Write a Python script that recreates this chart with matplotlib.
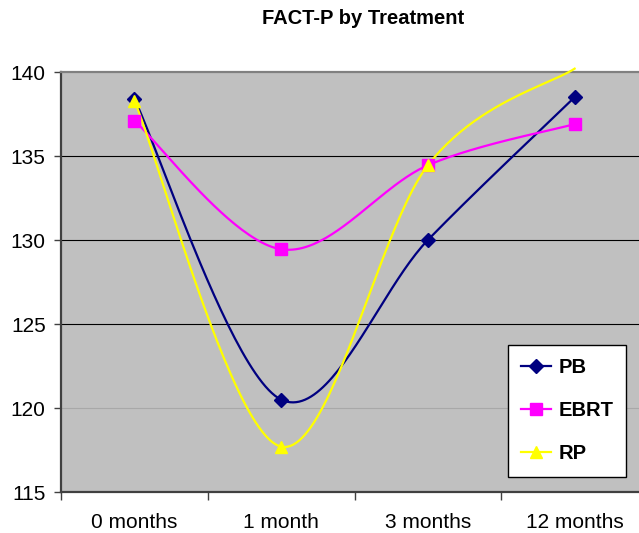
import numpy as np
import matplotlib
matplotlib.use("Agg")
from matplotlib import pyplot as plt
from matplotlib.lines import Line2D

plt.rcParams['font.family'] = ['Liberation Sans', 'DejaVu Sans']

categories = ['0 months', '1 month', '3 months', '12 months']
pb = [138.4, 120.5, 130.0, 138.5]
ebrt = [137.1, 129.45, 134.45, 136.9]
rp = [138.3, 117.7, 134.45, 140.2]
yticks = [115, 120, 125, 130, 135, 140]

series = [('PB', pb, '#000080', 'D', 7),
          ('EBRT', ebrt, '#FF00FF', 's', 8.5),
          ('RP', rp, '#FFFF00', '^', 9)]


def smooth(xs, ys, sx, sy, n=50):
    # excel style smoothing: bezier with catmull-rom control points, in pixel space
    p = np.column_stack([np.asarray(xs, float) * sx, np.asarray(ys, float) * sy])
    ext = np.vstack([p[0], p, p[-1]])
    out = []
    t = np.linspace(0, 1, n)[:, None]
    for i in range(len(p) - 1):
        p0, p1, p2, p3 = ext[i], ext[i + 1], ext[i + 2], ext[i + 3]
        c1 = p1 + (p2 - p0) / 6.0
        c2 = p2 - (p3 - p1) / 6.0
        seg = ((1 - t) ** 3) * p1 + 3 * ((1 - t) ** 2) * t * c1 + 3 * (1 - t) * t ** 2 * c2 + t ** 3 * p2
        out.append(seg if i == 0 else seg[1:])
    out = np.vstack(out)
    return out[:, 0] / sx, out[:, 1] / sy


W, H = 639, 533
fig = plt.figure(figsize=(W / 100, H / 100), dpi=100)
ax = fig.add_axes([61 / W, (H - 492) / H, 587 / W, 420 / H])
ax.set_facecolor('#C0C0C0')

x = np.arange(len(categories))
ax.set_xlim(-0.5, len(categories) - 0.5)
ax.set_ylim(115, 140)

# pixel scales (x per category, y per unit)
sx, sy = 146.75, 16.8

for yv in yticks[1:-1]:
    ax.axhline(yv, color='#A8A8A8' if yv == 120 else 'black', lw=0.8, zorder=1)

handles = []
for name, vals, col, mk, ms in series:
    xs, ys = smooth(x, vals, sx, sy)
    ax.plot(xs, ys, color=col, lw=1.6, zorder=3, clip_on=False)
    v = np.array(vals, float)
    vis = v <= 140
    ax.plot(x[vis], v[vis], linestyle='none', marker=mk, ms=ms, color=col,
            markeredgecolor=col, zorder=4, clip_on=False)
    handles.append(Line2D([], [], color=col, lw=1.6, marker=mk, ms=ms,
                          markeredgecolor=col, label=name))

for s in ['left', 'bottom']:
    ax.spines[s].set_color('#404040')
    ax.spines[s].set_linewidth(1.6)
ax.spines['top'].set_color('#808080')
ax.spines['top'].set_linewidth(1.6)
ax.spines['right'].set_visible(False)

ax.set_yticks(yticks)
ax.tick_params(axis='y', length=5, width=1, color='#404040', labelsize=15, pad=6)
ax.set_xticks(x)
ax.set_xticklabels(categories)
ax.set_xticks(np.arange(len(categories) + 1) - 0.5, minor=True)
ax.tick_params(axis='x', which='major', length=0, labelsize=15, pad=15)
ax.tick_params(axis='x', which='minor', length=6, width=1, color='#404040')

fig.text(363 / W, 1 - 19 / H, 'FACT-P by Treatment', ha='center', va='center',
         fontsize=14.5, fontweight='bold')

leg = ax.legend(handles=handles, loc='upper left',
                bbox_to_anchor=(508 / W, 1 - 345 / H), bbox_transform=fig.transFigure,
                frameon=True, fancybox=False, framealpha=1, edgecolor='black',
                prop={'weight': 'bold', 'size': 14.5}, handlelength=1.5,
                handletextpad=0.35, labelspacing=1.2, borderpad=0.65, borderaxespad=0)
leg.get_frame().set_linewidth(1.0)

fig.savefig('out.png', dpi=100)
